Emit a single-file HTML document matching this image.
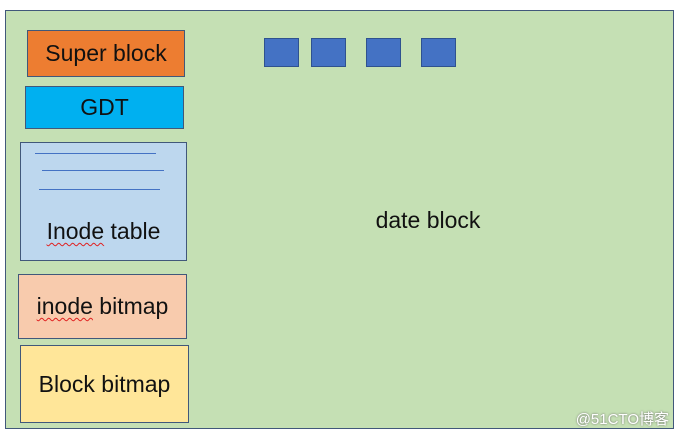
<!DOCTYPE html>
<html><head><style>
body{margin:0;width:679px;height:435px;background:#fff;position:relative;overflow:hidden;font-family:"Liberation Sans","Noto Sans CJK SC",sans-serif}
.b{position:absolute;box-sizing:border-box;border:1px solid #41587a;display:flex;align-items:center;justify-content:center;font-size:23px;color:#111}
.l{position:absolute;height:1px;background:#4472c4}
.s{position:absolute;top:38px;width:35px;height:29px;background:#4472c4;border:1px solid #2f528f;box-sizing:border-box}
u{text-decoration:underline wavy #e02020 1px;text-underline-offset:3px}
</style></head><body>
<div class="b" style="left:5px;top:10px;width:669px;height:419px;background:#c5e0b4;border-color:#41587a"></div>
<div class="b" style="left:27px;top:30px;width:158px;height:47px;background:#ed7d31">Super block</div>
<div class="b" style="left:25px;top:86px;width:159px;height:43px;background:#00b0f0">GDT</div>
<div class="b" style="left:20px;top:142px;width:167px;height:119px;background:#bdd7ee;align-items:flex-end;padding-bottom:15px"><span><u>Inode</u> table</span></div>
<div class="l" style="left:35px;top:153px;width:121px"></div>
<div class="l" style="left:42px;top:170px;width:122px"></div>
<div class="l" style="left:39px;top:189px;width:121px"></div>
<div class="b" style="left:18px;top:274px;width:169px;height:65px;background:#f8cbad"><span><u>inode</u> bitmap</span></div>
<div class="b" style="left:20px;top:345px;width:169px;height:78px;background:#ffe699">Block bitmap</div>
<div class="s" style="left:264px"></div>
<div class="s" style="left:311px"></div>
<div class="s" style="left:366px"></div>
<div class="s" style="left:421px"></div>
<div style="position:absolute;left:328px;width:200px;top:207px;text-align:center;font-size:23px;color:#111">date block</div>
<div style="position:absolute;right:10px;top:408px;font-size:15px;color:#fff;text-shadow:0 0 2px #666">@51CTO博客</div>
</body></html>
